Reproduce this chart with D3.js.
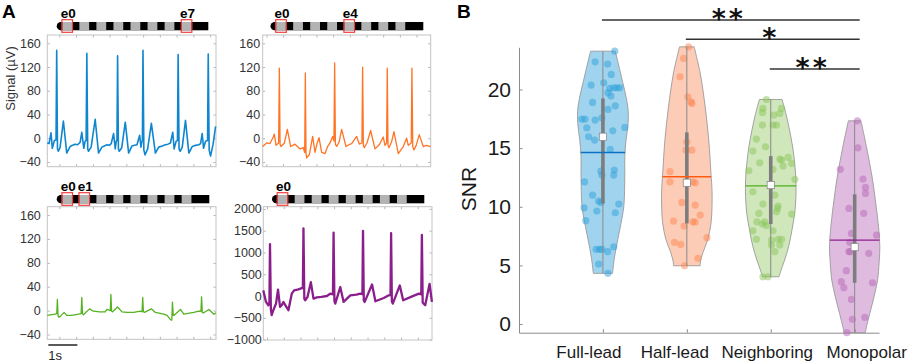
<!DOCTYPE html>
<html><head><meta charset="utf-8">
<script src="https://cdn.jsdelivr.net/npm/d3@7"></script>
<style>body{margin:0;background:#fff} svg{display:block}</style>
</head><body>
<svg id="c" width="913" height="363"></svg>
<script>
// ---------------- DATA ----------------
const timeDomain = [0, 5.8]; // seconds shown in each trace panel
// Panel A: signal traces, [time (s), value]
const traceFullLead = [[0,-8],[0.06,-9],[0.128,9],[0.173,-17],[0.242,-4],[0.3,-3],[0.323,148],[0.35,-18],[0.38,-22],[0.438,-16],[0.553,29],[0.668,-25],[0.783,-14],[0.87,-12],[0.955,-10],[1.04,-11],[1.128,-7],
[1.186,10],[1.255,-17],[1.3,-5],[1.335,-4],[1.359,143],[1.39,-18],[1.416,-22],[1.508,-15],[1.646,32],[1.761,-25],[1.876,-15],[1.96,-13],[2.05,-11],[2.13,-12],[2.198,-9],
[2.279,8],[2.336,-18],[2.37,-5],[2.395,-4],[2.417,139],[2.445,-18],[2.474,-22],[2.56,-16],[2.681,27],[2.796,-25],[2.911,-13],[3.0,-12],[3.084,-11],
[3.175,5],[3.22,-15],[3.256,-5],[3.27,-4],[3.29,148],[3.32,-20],[3.36,-28],[3.45,-18],[3.578,25],[3.716,-25],[3.83,-15],[3.95,-13],[4.06,-11],[4.15,-10],[4.233,-8],
[4.314,10],[4.36,-18],[4.43,-5],[4.475,-4],[4.498,141],[4.53,-18],[4.567,-22],[4.64,-15],[4.751,30],[4.866,-25],[4.981,-14],[5.1,-12],[5.211,-11],[5.27,-9],
[5.326,8],[5.372,-17],[5.44,-5],[5.51,-4],[5.533,142],[5.565,-20],[5.613,-30],[5.7,-10],[5.786,20]];
const traceHalfLead = [[0,-14],[0.138,-8],[0.25,-9],[0.368,2],[0.402,7],[0.46,-12],[0.55,-8],[0.575,118],[0.6,-10],[0.632,-14],[0.75,-8],[0.851,15],[0.966,-14],[1.115,-10],[1.2,-14],[1.288,-18],[1.403,-16],[1.45,-24],[1.472,110],[1.495,-25],[1.518,-33],[1.61,-28],[1.725,3],[1.806,-24],[1.87,-10],[1.944,1],[2.036,-24],[2.151,-26],[2.24,-14],[2.324,-8],[2.415,3],[2.46,-5],[2.484,127],[2.51,-10],[2.553,-14],[2.64,-6],[2.726,15],[2.875,-14],[2.97,-11],[3.071,-9],[3.243,3],[3.335,-10],[3.425,-8],[3.45,120],[3.475,-12],[3.508,-16],[3.6,-8],[3.726,13],[3.876,-18],[4.025,-11],[4.163,2],[4.221,-12],[4.278,-8],[4.301,118],[4.325,-12],[4.359,-16],[4.45,-6],[4.531,11],[4.681,-26],[4.853,-14],[4.968,0],[5.026,-12],[5.128,-8],[5.152,118],[5.18,-14],[5.221,-20],[5.3,-12],[5.405,6],[5.543,-14],[5.65,-12],[5.796,-14]];
const traceNeighboring = [[0,-8],[0.266,-6],[0.325,-5],[0.347,19],[0.37,-9],[0.393,-11],[0.439,-10],[0.577,-3],[0.669,-8],[0.842,-8],[1.072,-6],[1.163,-5],[1.186,22],[1.21,-5],[1.244,-7],[1.451,3],[1.589,-1],[1.8,-2],[1.992,-2],[2.049,2],[2.165,0],[2.187,27],[2.21,-1],[2.245,-2],[2.417,6],[2.567,-2],[2.75,-3],[2.969,-3],[3.199,-1],[3.258,-2],[3.28,22],[3.305,-2],[3.337,-3],[3.579,3],[3.717,-3],[4.004,-6],[4.119,-8],[4.234,-15],[4.28,-16],[4.303,14],[4.33,-8],[4.349,-8],[4.579,2],[4.694,-6],[5.039,-3],[5.212,-1],[5.282,-1],[5.304,23],[5.33,-3],[5.361,-4],[5.557,2],[5.729,-6],[5.8,-4]];
const traceMonopolar = [[0,129],[0.092,-136],[0.173,-212],[0.21,-150],[0.23,1190],[0.26,-300],[0.288,-440],[0.345,-326],[0.437,-174],[0.506,144],[0.575,-250],[0.633,-212],[0.69,-136],[0.771,-227],[0.863,-326],[0.921,-136],[0.978,53],[1.059,129],[1.208,152],[1.323,182],[1.36,180],[1.381,1553],[1.41,-60],[1.439,-98],[1.519,-23],[1.634,318],[1.726,-61],[1.841,-30],[2.0,-20],[2.186,0],[2.301,53],[2.395,40],[2.416,1455],[2.445,-120],[2.474,-174],[2.646,205],[2.761,-136],[2.991,15],[3.2,30],[3.336,53],[3.407,40],[3.428,1492],[3.455,-100],[3.486,-136],[3.739,265],[3.854,-121],[4.141,-45],[4.314,15],[4.373,20],[4.394,1440],[4.42,-120],[4.452,-174],[4.693,242],[4.808,-98],[5.119,-8],[5.349,53],[5.431,40],[5.452,1400],[5.48,-150],[5.51,-174],[5.567,-212],[5.717,280],[5.797,-136]];
const yTicksUV = [-40, 0, 40, 80, 120, 160];
const yTicksMono = [-1000, -500, 0, 500, 1000, 1500, 2000];
const electrodeLabels = ["e0","e1","e2","e3","e4","e5","e6","e7"];
const highlightedElectrodes = [[0,7],[0,4],[0,1],[0]];

// Panel B: SNR per configuration
const categories = ["Full-lead","Half-lead","Neighboring","Monopolar"];
const snrTicks = [0, 5, 10, 15, 20];
// [SNR, jitter (fraction of max violin half-width)]
const snrFullLead = [[23.27,.47],[22.36,-.31],[22.17,.19],[21.29,.33],[20.38,-.47],[20.57,.03],[20.09,.27],[20.15,.43],[20.15,.56],[20.15,.67],[19.72,.2],[19.44,.32],[18.9,-.41],[18.61,.49],[18.3,.2],[17.48,-.84],[17.48,-.71],[17.39,-.31],[17.59,-.04],[16.77,.87],[16.74,-.64],[16.48,.39],[15.97,-.57],[15.69,-.33],[14.89,.29],[13.04,-.08],[13.13,.45],[12.7,-.04],[12.7,.43],[12.13,-.73],[11.0,-.41],[10.49,-.17],[10.37,-.08],[10.23,.63],[9.91,-.75],[9.63,-.24],[9.49,.49],[8.81,-.68],[6.37,-.27],[6.37,-.13],[6.37,-.04],[6.17,.19],[6.59,.43],[5.12,-.17],[4.32,.2]];
const snrHalfLead = [[23.64,.07],[22.65,-.13],[21.08,-.27],[19.38,.04],[18.81,.2],[18.95,.17],[15.54,0],[14.83,.2],[14.83,-.03],[12.99,-.67],[12.13,-.67],[12.05,.33],[12.13,.24],[10.37,-.2],[10.14,.33],[9.29,.53],[8.78,-.53],[8.35,-.11],[8.72,.24],[8.7,.33],[6.97,-.49],[6.79,-.24],[7.36,.8],[5.6,.44],[4.97,-.09]];
const snrNeighboring = [[19.15,-.17],[18.39,-.31],[18.05,-.33],[17.82,.12],[18.39,.43],[17.96,.36],[16.97,-.33],[16.97,.09],[16.97,.23],[15.77,-.57],[15.12,-.21],[14.75,-.71],[14.07,.36],[13.98,.43],[14.21,.69],[13.7,.83],[13.75,-.44],[13.47,.49],[13.19,.09],[13.07,-.87],[12.34,.96],[11.28,-.71],[11.0,.16],[10.23,-.31],[10.06,.29],[9.86,.27],[9.44,-.47],[9.57,.23],[9.38,.83],[8.72,-.55],[8.72,-.24],[8.53,-.33],[8.38,-.17],[7.95,-.71],[7.95,.09],[7.22,-.57],[7.22,.29],[7.22,.43],[7.16,.03],[6.73,.03],[6.73,.36],[6.17,.16],[4.03,-.31],[4.03,-.11]];
const snrMonopolar = [[17.33,.11],[15.03,.13],[13.19,-.57],[12.36,.33],[11.65,.43],[11.14,.43],[9.44,.36],[9.86,-.23],[7.73,-.13],[7.59,.87],[6.97,-.2],[6.17,-.23],[6.17,-.17],[6.03,.56],[4.55,-.33],[3.61,-.53],[3.1,-.43],[3.52,.71],[2.1,-.13],[0.57,.4],[0.4,-.09],[-0.74,-.31]];
// violin outlines: [SNR, relative density]
const densFullLead = [[23.27,.49],[21.4,.70],[18.5,.99],[17.1,1.0],[15.7,.92],[14.3,.87],[12.8,.87],[11.4,.86],[10,.83],[8.6,.72],[7.2,.59],[5.7,.46],[4.32,.38]];
const densHalfLead = [[23.64,.29],[21.4,.53],[18.5,.73],[15.7,.87],[12.8,.96],[11.4,1.0],[10,1.0],[8.6,.96],[7.2,.83],[6.1,.64],[5.3,.54],[4.97,.53]];
const densNeighboring = [[19.15,.45],[17.96,.6],[16.5,.75],[15.1,.87],[13.7,.95],[12.3,1.0],[10.85,1.0],[9.4,.95],[8.0,.84],[6.6,.71],[5.46,.55],[4.6,.41],[4.03,.33]];
const densMonopolar = [[17.33,.25],[15.1,.47],[12.3,.71],[9.4,.89],[8.0,.96],[6.6,1.0],[5.2,.97],[3.75,.91],[2.33,.77],[0.9,.6],[-0.23,.47],[-0.74,.42]];
const snrMeans = [14.63, 12.56, 11.79, 7.16];
const snrMedians = [15.97, 12.05, 11.85, 6.56];
const snrQ1 = [10.29, 8.58, 8.53, 3.52];
const snrQ3 = [19.24, 16.34, 14.32, 11.06];
const sigPairs = [[0,3,"**"],[1,3,"*"],[2,3,"**"]];

// ---------------- DRAW ----------------
const svg = d3.select("#c");
const FONT = "'Liberation Sans', Arial, sans-serif";

// ===== Panel A =====
svg.append("text").attr("x", 2).attr("y", 18.3).text("A")
  .style("font-family", FONT).style("font-weight", "bold").style("font-size", "19px");

const traceColors = ["#0f86cf", "#ff7424", "#55b221", "#8a1f8b"];
const traceWidths = [1.6, 1.3, 1.3, 2.3];
const panelsA = [
  {box:{x:47.3,y:35,w:168.7,h:131.7}, bar:{x0:56.7,x1:208.3,y:22}, gap:6.5, trace:traceFullLead, yd:[-48,174], ticks:yTicksUV, hl:highlightedElectrodes[0], xt0:0.414},
  {box:{x:262.7,y:35,w:168,h:131.7}, bar:{x0:270.5,x1:423.3,y:22}, gap:2.5, trace:traceHalfLead, yd:[-48,174], ticks:yTicksUV, hl:highlightedElectrodes[1], xt0:0.128},
  {box:{x:47.3,y:206.7,w:168.7,h:132.6}, bar:{x0:56.7,x1:209.3,y:195}, gap:6.5, trace:traceNeighboring, yd:[-48,174], ticks:yTicksUV, hl:highlightedElectrodes[2], xt0:0.414},
  {box:{x:263.3,y:206.7,w:168.7,h:133.3}, bar:{x0:272,x1:424.3,y:195}, gap:1.5, trace:traceMonopolar, yd:[-1010,2050], ticks:yTicksMono, hl:highlightedElectrodes[3], xt0:0.128}
];

panelsA.forEach((p, k) => {
  const b = p.box;
  const x = d3.scaleLinear().domain(timeDomain).range([b.x, b.x + b.w]);
  const y = d3.scaleLinear().domain(p.yd).range([b.y + b.h, b.y]);
  const g = svg.append("g");
  const xt = d3.range(p.xt0, timeDomain[1], 0.576);
  const tickCol = "#b5b5b5";
  const axL = g.append("g").attr("transform", `translate(${b.x},0)`)
    .call(d3.axisLeft(y).tickValues(p.ticks).tickFormat(d3.format("d")).tickSizeInner(-2.5).tickSizeOuter(0).tickPadding(p.gap));
  axL.select(".domain").remove();
  axL.selectAll("line").attr("stroke", tickCol);
  axL.selectAll("text").style("font-family", FONT).style("font-size", "12.5px").attr("fill", "#333");
  const axR = g.append("g").attr("transform", `translate(${b.x + b.w},0)`)
    .call(d3.axisRight(y).tickValues(p.ticks).tickSizeInner(-2.5).tickSizeOuter(0).tickFormat(""));
  axR.select(".domain").remove(); axR.selectAll("line").attr("stroke", tickCol);
  const axB = g.append("g").attr("transform", `translate(0,${b.y + b.h})`)
    .call(d3.axisBottom(x).tickValues(xt).tickSizeInner(-2.5).tickSizeOuter(0).tickFormat(""));
  axB.select(".domain").remove(); axB.selectAll("line").attr("stroke", tickCol);
  const axT = g.append("g").attr("transform", `translate(0,${b.y})`)
    .call(d3.axisTop(x).tickValues(xt).tickSizeInner(-2.5).tickSizeOuter(0).tickFormat(""));
  axT.select(".domain").remove(); axT.selectAll("line").attr("stroke", tickCol);
  g.append("rect").attr("x", b.x).attr("y", b.y).attr("width", b.w).attr("height", b.h)
    .attr("fill", "none").attr("stroke", "#c4c4c4").attr("stroke-width", 1);

  g.append("path").datum(p.trace)
    .attr("d", d3.line().x(d => x(d[0])).y(d => y(d[1])))
    .attr("fill", "none").attr("stroke", traceColors[k]).attr("stroke-width", traceWidths[k])
    .attr("stroke-linejoin", "round");

  // electrode lead
  const bar = p.bar, bh = 8.3, pitch = 17.05, ew = 9.8;
  const ex = i => bar.x0 + 5.6 + i * pitch;
  g.append("circle").attr("cx", bar.x0 + 4.15).attr("cy", bar.y + bh / 2).attr("r", bh / 2).attr("fill", "#000");
  g.append("rect").attr("x", bar.x0 + 4).attr("y", bar.y).attr("width", bar.x1 - bar.x0 - 4).attr("height", bh).attr("fill", "#000");
  g.selectAll(".el").data(electrodeLabels).enter().append("rect")
    .attr("x", (d, i) => ex(i)).attr("y", bar.y).attr("width", ew).attr("height", bh).attr("fill", "#b3b3b3");
  p.hl.forEach(i => {
    g.append("rect").attr("x", ex(i) - 0.4).attr("y", bar.y - 2.3).attr("width", ew + 0.8).attr("height", bh + 4.3)
      .attr("fill", "none").attr("stroke", "#f23c3c").attr("stroke-width", 1.2);
    g.append("text").attr("x", ex(i) + ew / 2 + 1).attr("y", bar.y - 4.2).attr("text-anchor", "middle")
      .text(electrodeLabels[i]).style("font-family", FONT).style("font-weight", "bold").style("font-size", "13.5px");
  });

  if (k === 2) {
    g.append("line").attr("x1", x(0) + 1).attr("x2", x(1) + 1).attr("y1", 345).attr("y2", 345)
      .attr("stroke", "#000").attr("stroke-width", 1.3);
    g.append("text").attr("x", x(0) + 1).attr("y", 360).text("1s")
      .style("font-family", FONT).style("font-size", "13px").attr("fill", "#222");
  }
});

svg.append("text").attr("transform", "translate(15,78.5) rotate(-90)").attr("text-anchor", "middle")
  .text("Signal (µV)").style("font-family", FONT).style("font-size", "13px").attr("fill", "#333");

// ===== Panel B =====
svg.append("text").attr("x", 457).attr("y", 18.3).text("B")
  .style("font-family", FONT).style("font-weight", "bold").style("font-size", "19px");

const xB = d3.scaleLinear().domain([0, 4.29]).range([519, 879]);
const yB = d3.scaleLinear().domain([-0.74, 23.6]).range([332.7, 47.3]);
const maxHW = 0.3; // category units
const hwPx = xB(maxHW) - xB(0);

const axisCol = "#8c8c8c";
const yAx = svg.append("g").attr("transform", "translate(519,0)")
  .call(d3.axisLeft(yB).tickValues(snrTicks).tickSizeInner(-3.5).tickSizeOuter(0).tickPadding(8));
yAx.select(".domain").attr("stroke", axisCol);
yAx.selectAll("line").attr("stroke", axisCol);
yAx.selectAll("text").style("font-family", FONT).style("font-size", "21px").attr("fill", "#1a1a1a");
const xAx = svg.append("g").attr("transform", "translate(0,332.7)")
  .call(d3.axisBottom(xB).tickValues([1,2,3,4]).tickSizeInner(-3.5).tickSizeOuter(0).tickFormat(""));
xAx.select(".domain").attr("stroke", axisCol);
xAx.selectAll("line").attr("stroke", axisCol);
const labelShift = [-14, -12, -3.5, 12];
categories.forEach((c, i) => {
  svg.append("text").attr("x", xB(i + 1) + labelShift[i]).attr("y", 358).attr("text-anchor", "middle").text(c)
    .style("font-family", FONT).style("font-size", "17px").attr("fill", "#1a1a1a");
});
svg.append("text").attr("transform", "translate(475.5,189) rotate(-90)").attr("text-anchor", "middle")
  .text("SNR").style("font-family", FONT).style("font-size", "21px").attr("fill", "#1a1a1a");

const baseCols = ["#2d9fda", "#fb8552", "#8cc65c", "#b768b8"];
const meanCols = ["#0a6fc2", "#ff5a14", "#4dae1c", "#8f1f90"];
const fillOp = [0.45, 0.42, 0.42, 0.45];
const groups = [snrFullLead, snrHalfLead, snrNeighboring, snrMonopolar];
const dens = [densFullLead, densHalfLead, densNeighboring, densMonopolar];

groups.forEach((pts, i) => {
  const cx = xB(i + 1);
  const d = dens[i];
  const g = svg.append("g");
  const area = d3.area()
    .y(e => yB(e[0]))
    .x0(e => cx - e[1] * hwPx).x1(e => cx + e[1] * hwPx)
    .curve(d3.curveCatmullRom);
  g.append("path").datum(d).attr("d", area)
    .attr("fill", baseCols[i]).attr("fill-opacity", fillOp[i])
    .attr("stroke", "#9a9a9a").attr("stroke-width", 0.9);
  g.selectAll("circle").data(pts).enter().append("circle")
    .attr("cx", e => cx + e[1] * hwPx).attr("cy", e => yB(e[0])).attr("r", 3.6)
    .attr("fill", baseCols[i]).attr("fill-opacity", 0.5);
  const vals = pts.map(e => e[0]);
  g.append("line").attr("x1", cx).attr("x2", cx).attr("y1", yB(d3.min(vals))).attr("y2", yB(d3.max(vals)))
    .attr("stroke", "#8a8a8a").attr("stroke-width", 1);
  g.append("line").attr("x1", cx).attr("x2", cx).attr("y1", yB(snrQ1[i])).attr("y2", yB(snrQ3[i]))
    .attr("stroke", "#7d7d7d").attr("stroke-width", 3.6);
  const wAt = d3.scaleLinear().domain(d.map(e => e[0])).range(d.map(e => e[1]));
  const mw = wAt(snrMeans[i]) * hwPx;
  g.append("line").attr("x1", cx - mw).attr("x2", cx + mw).attr("y1", yB(snrMeans[i])).attr("y2", yB(snrMeans[i]))
    .attr("stroke", meanCols[i]).attr("stroke-width", 1.3);
  g.append("rect").attr("x", cx - 3.6).attr("y", yB(snrMedians[i]) - 3.6).attr("width", 7.2).attr("height", 7.2)
    .attr("fill", "#fff").attr("stroke", "#8a8a8a").attr("stroke-width", 0.8);
});

const sigY = [20, 39.3, 69];
sigPairs.forEach((s, j) => {
  const x1 = xB(s[0] + 1) - 1, x2 = xB(4) + 5;
  svg.append("line").attr("x1", x1).attr("x2", x2).attr("y1", sigY[j]).attr("y2", sigY[j])
    .attr("stroke", "#333").attr("stroke-width", 1.5);
  svg.append("text").attr("x", (x1 + x2) / 2 - 2).attr("y", sigY[j] + 8).attr("text-anchor", "middle")
    .text(s[2]).style("font-family", "'DejaVu Sans', sans-serif").style("font-size", "27px").style("font-weight", "bold")
    .style("letter-spacing", "3px").attr("fill", "#111");
});
</script>
</body></html>
